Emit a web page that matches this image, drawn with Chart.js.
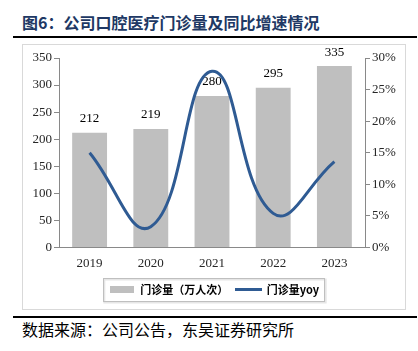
<!DOCTYPE html>
<html lang="zh">
<head>
  <meta charset="UTF-8">
  <title>公司口腔医疗门诊量及同比增速情况</title>
  <script src="https://cdn.jsdelivr.net/npm/chart.js"></script>
  <style>
    body {
      margin: 0;
      width: 418px;
      height: 351px;
      background: #fff;
      position: relative;
      overflow: hidden;
      font-family: 'Noto Sans CJK SC', sans-serif;
    }
    #title {
      position: absolute;
      left: 22px;
      top: 10px;
      font-size: 16px;
      font-weight: bold;
      color: #203864;
      line-height: 24px;
      white-space: nowrap;
    }
    .rule {
      position: absolute;
      left: 13px;
      width: 404px;
      height: 2px;
      background: #000;
    }
    #frame {
      position: absolute;
      left: 22px;
      top: 44px;
      width: 382px;
      height: 264px;
      border: 1px solid #d9d9d9;
    }
    #chart {
      position: absolute;
      left: 0;
      top: 0;
    }
    #source {
      position: absolute;
      left: 22px;
      top: 318px;
      font-size: 16px;
      color: #000;
      line-height: 22px;
      white-space: nowrap;
    }
  </style>
</head>
<body>
  <div id="title">图6：公司口腔医疗门诊量及同比增速情况</div>
  <div class="rule" style="top:36px"></div>
  <div id="frame"><canvas id="chart" width="382" height="264"></canvas></div>
  <div class="rule" style="top:316px"></div>
  <div id="source">数据来源：公司公告，东吴证券研究所</div>

  <script>
    const years = ['2019', '2020', '2021', '2022', '2023'];
    const visits = [212, 219, 280, 295, 335];          // 门诊量（万人次）
    const visitsYoy = [15.0, 3.3, 27.9, 5.4, 13.6];     // 门诊量yoy, %
    const leftTicks = [0, 50, 100, 150, 200, 250, 300, 350];
    const rightTicks = [0, 5, 10, 15, 20, 25, 30];

    const serif = 'Liberation Serif';
    const axisColor = '#898989';

    function swatch(w, h, color) {
      const c = document.createElement('canvas');
      c.width = w;
      c.height = h;
      const g = c.getContext('2d');
      g.fillStyle = color;
      g.fillRect(0, 0, w, h);
      return c;
    }
    const barSwatch = swatch(24, 7, '#bfbfbf');
    const lineSwatch = swatch(27, 3, '#2f5b93');

    // value labels above the bars, drawn before the line so the line covers them
    const barLabels = {
      id: 'barLabels',
      afterDatasetDraw(chart, args) {
        if (args.index !== 0) return;
        const ctx = chart.ctx;
        ctx.save();
        ctx.font = '13px "' + serif + '"';
        ctx.fillStyle = '#000';
        ctx.textAlign = 'center';
        ctx.textBaseline = 'middle';
        args.meta.data.forEach((bar, i) => {
          ctx.fillText(visits[i], bar.x, bar.y - 14);
        });
        ctx.restore();
      }
    };

    // border round the legend
    const legendBox = {
      id: 'legendBox',
      afterDraw(chart) {
        const boxes = chart.legend.legendHitBoxes;
        if (!boxes || !boxes.length) return;
        const left = Math.min(...boxes.map(b => b.left)) - 6;
        const right = Math.max(...boxes.map(b => b.left + b.width)) + 5;
        const top = boxes[0].top - 6;
        const bottom = boxes[0].top + boxes[0].height + 6;
        const ctx = chart.ctx;
        ctx.save();
        ctx.strokeStyle = '#e6e6e6';
        ctx.lineWidth = 2;
        ctx.strokeRect(left + 1.5, top + 1.5, right - left, bottom - top);
        ctx.strokeStyle = '#bfbfbf';
        ctx.lineWidth = 1;
        ctx.strokeRect(Math.round(left) + 0.5, Math.round(top) + 0.5, Math.round(right - left), Math.round(bottom - top));
        ctx.restore();
      }
    };

    const ctx = document.getElementById('chart').getContext('2d');
    new Chart(ctx, {
      type: 'bar',
      data: {
        labels: years,
        datasets: [
          {
            label: '门诊量（万人次）',
            data: visits,
            backgroundColor: '#bfbfbf',
            yAxisID: 'y',
            order: 1,
            categoryPercentage: 1,
            barPercentage: 0.57
          },
          {
            type: 'line',
            label: '门诊量yoy',
            data: visitsYoy,
            borderColor: '#2f5b93',
            borderWidth: 3,
            pointRadius: 0,
            tension: 0.45,
            fill: false,
            yAxisID: 'y1',
            order: 0
          }
        ]
      },
      options: {
        responsive: false,
        devicePixelRatio: 1,
        animation: false,
        layout: { padding: { top: 13, bottom: 4 } },
        plugins: {
          tooltip: { enabled: false },
          legend: {
            position: 'bottom',
            labels: {
              usePointStyle: true,
              pointStyleWidth: 26,
              padding: 7,
              color: '#262626',
              font: { family: 'Noto Sans CJK SC', size: 11, weight: 'bold' },
              sort: (a, b) => a.datasetIndex - b.datasetIndex,
              generateLabels(chart) {
                return [
                  { text: '门诊量（万人次）', pointStyle: barSwatch, datasetIndex: 0, lineWidth: 0, fillStyle: '#bfbfbf', strokeStyle: '#bfbfbf' },
                  { text: '门诊量yoy', pointStyle: lineSwatch, datasetIndex: 1, lineWidth: 0, fillStyle: '#2f5b93', strokeStyle: '#2f5b93' }
                ];
              }
            }
          }
        },
        scales: {
          x: {
            grid: { display: false, drawTicks: false },
            border: { color: axisColor, width: 1 },
            ticks: { color: '#262626', font: { family: serif, size: 13 }, padding: 8 },
            afterFit: s => { s.height = 29.5; }
          },
          y: {
            position: 'left',
            min: 0,
            max: 350,
            afterBuildTicks: s => { s.ticks = leftTicks.map(v => ({ value: v })); },
            grid: { drawOnChartArea: false, tickLength: 5, color: axisColor },
            border: { color: axisColor, width: 1 },
            ticks: { color: '#262626', font: { family: serif, size: 13 }, padding: 2 },
            afterFit: s => { s.width = 36; }
          },
          y1: {
            position: 'right',
            min: 0,
            max: 30,
            afterBuildTicks: s => { s.ticks = rightTicks.map(v => ({ value: v })); },
            grid: { drawOnChartArea: false, tickLength: 5, color: axisColor },
            border: { color: axisColor, width: 1 },
            ticks: { color: '#262626', font: { family: serif, size: 13 }, padding: 2, callback: v => v + '%' },
            afterFit: s => { s.width = 40; }
          }
        }
      },
      plugins: [barLabels, legendBox]
    });
  </script>
</body>
</html>
